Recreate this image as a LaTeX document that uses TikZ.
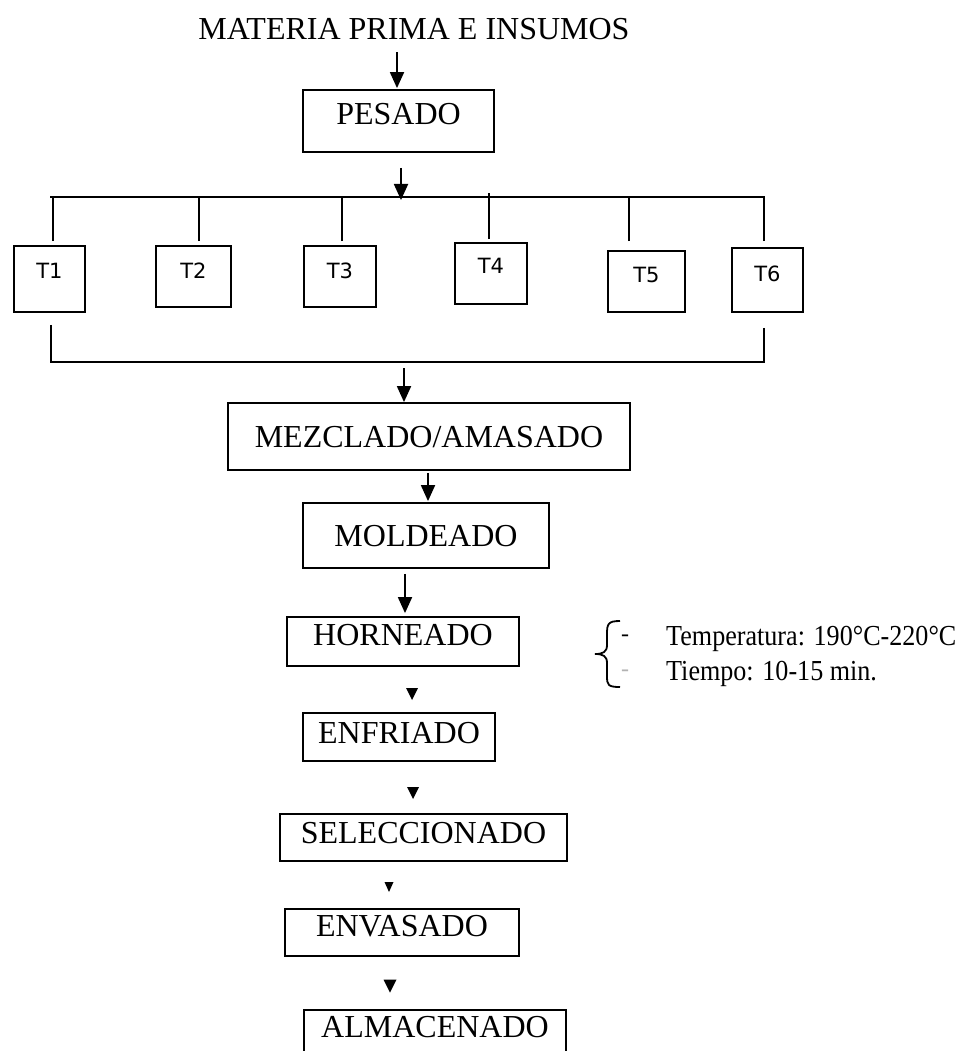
\documentclass[tikz,border=0pt]{standalone}
\usepackage{fontspec}
\setmainfont{Liberation Serif}
\newfontfamily\tfont{DejaVu Sans}
\newfontfamily\condfont{Liberation Serif}[FakeStretch=0.9]
\usetikzlibrary{arrows.meta,calc}
\begin{document}
\begin{tikzpicture}[x=1pt,y=-1pt,
  lw/.style={line width=1.8pt},
  box/.style={draw, lw, inner sep=0pt, font=\fontsize{32}{32}\selectfont, text height=21pt},
  tbox/.style={draw, lw, inner sep=0pt, font=\tfont\fontsize{21}{21}\selectfont, text height=15pt},
  arr/.style={lw, -{Triangle[width=14pt,length=16pt]}},
  ln/.style={lw},
  note/.style={inner sep=0pt, anchor=base west, font=\condfont\fontsize{29}{29}\selectfont}
]
\useasboundingbox (0,0) rectangle (969,1051);

% title
\node[inner sep=0pt, font=\fontsize{32}{32}\selectfont] (title) at (414,29.5) {MATERIA PRIMA E INSUMOS};

% main boxes
\node[box, minimum width=191pt, minimum height=62pt, text depth=13pt] (pesado) at (398.5,121) {PESADO};
\node[box, minimum width=402pt, minimum height=67pt, text depth=0pt] (mezclado) at (429,436.5) {MEZCLADO/AMASADO};
\node[box, minimum width=246pt, minimum height=65pt, text depth=0pt] (moldeado) at (426,535.5) {MOLDEADO};
\node[box, minimum width=232pt, minimum height=49pt, text depth=14pt] (horneado) at (403,641.5) {HORNEADO};
\node[box, minimum width=192pt, minimum height=48pt, text depth=9pt] (enfriado) at (399,737) {ENFRIADO};
\node[box, minimum width=287pt, minimum height=47pt, text depth=10pt] (seleccionado) at (423.5,837.5) {SELECCIONADO};
\node[box, minimum width=234pt, minimum height=47pt, text depth=13pt] (envasado) at (402,932.5) {ENVASADO};
\node[box, minimum width=262pt, minimum height=50pt, text depth=17pt] (almacenado) at (435,1035) {ALMACENADO};

% T boxes
\node[tbox, minimum width=71pt, minimum height=66pt, text depth=17pt] (t1) at (49.5,279) {T1};
\node[tbox, minimum width=75pt, minimum height=61pt, text depth=12pt] (t2) at (193.5,276.5) {T2};
\node[tbox, minimum width=72pt, minimum height=61pt, text depth=12pt] (t3) at (340,276.5) {T3};
\node[tbox, minimum width=72pt, minimum height=61pt, text depth=15pt] (t4) at (491,273.5) {T4};
\node[tbox, minimum width=77pt, minimum height=61pt, text depth=14pt] (t5) at (646.5,281.5) {T5};
\node[tbox, minimum width=71pt, minimum height=64pt, text depth=12pt] (t6) at (767.5,280) {T6};

% top distribution line
\coordinate (busL) at (50,197);
\coordinate (busR) at (765,197);
\coordinate (busM) at (401,197);
\draw[ln] (busL) -- (busR);
\draw[arr] ($(title.south -| pesado.north)+(-1.5,12)$) -- ($(pesado.north)+(-1.5,-1)$);
\draw[arr] ($(pesado.south -| busM)+(0,15)$) -- ($(busM)+(0,3)$);
\draw[ln] ($(t1.north)+(3.5,-4)$) -- ($(t1.north |- busL)+(3.5,0)$);
\draw[ln] ($(t2.north)+(5.5,-4)$) -- ($(t2.north |- busL)+(5.5,0)$);
\draw[ln] ($(t3.north)+(2,-4)$) -- ($(t3.north |- busL)+(2,0)$);
\draw[ln] ($(t4.north)+(-2,-3)$) -- ($(t4.north |- busL)+(-2,-4)$);
\draw[ln] ($(t5.north)+(-17.5,-9)$) -- ($(t5.north |- busL)+(-17.5,0)$);
\draw[ln] ($(t6.north)+(-3.5,-6)$) -- ($(t6.north |- busR)+(-3.5,0)$);

% bottom collecting line
\coordinate (bbL) at (50,362);
\coordinate (bbR) at (765,362);
\coordinate (bbM) at (404,362);
\draw[ln] ($(t1.south)+(1.5,12)$) -- ($(t1.south |- bbL)+(1.5,0)$);
\draw[ln] ($(t6.south)+(-3.5,15)$) -- ($(t6.south |- bbR)+(-3.5,0)$);
\draw[ln] (bbL) -- (bbR);
\draw[arr] ($(bbM)+(0,6)$) -- (bbM |- mezclado.north);

% main flow arrows
\draw[arr] ($(mezclado.south)+(-1,2)$) -- ($(mezclado.south |- moldeado.north)+(-1,-1)$);
\draw[arr] ($(moldeado.south)+(-21,5)$) -- ($(moldeado.south |- horneado.north)+(-21,-3)$);

% small arrowheads
\coordinate (m1) at (412,694);
\coordinate (m2) at (413,793);
\coordinate (m3) at (389,887);
\coordinate (m4) at (390,986);
\fill (m1) ++(-6,-6) -- ++(12,0) -- ++(-6,12) -- cycle;
\fill (m2) ++(-6,-6) -- ++(12,0) -- ++(-6,12) -- cycle;
\fill (m3) ++(-4.5,-5) -- ++(9,0) -- ++(-4.5,10) -- cycle;
\fill (m4) ++(-6.5,-6.5) -- ++(13,0) -- ++(-6.5,13) -- cycle;

% brace and notes
\coordinate (brT) at (620,621);
\coordinate (brB) at (620,687);
\coordinate (brM) at (595,654);
\draw[lw] (brT) .. controls (608,621) and (607,624) .. (607,634) -- (607,645)
  .. controls (607,652) and (603,654) .. (brM)
  .. controls (603,654) and (607,656) .. (607,663) -- (607,676)
  .. controls (607,685) and (608,687) .. (brB);
\node[inner sep=0pt, font=\fontsize{24}{24}\selectfont] (dash1) at (625,638) {-};
\node[inner sep=0pt, font=\fontsize{24}{24}\selectfont, text=black!30] (dash2) at (625,673) {-};
\node[note] (temp) at (666,645) {Temperatura: 190°C-220°C};
\node[note] (tiempo) at (666,680) {Tiempo: 10-15 min.};
\end{tikzpicture}
\end{document}
